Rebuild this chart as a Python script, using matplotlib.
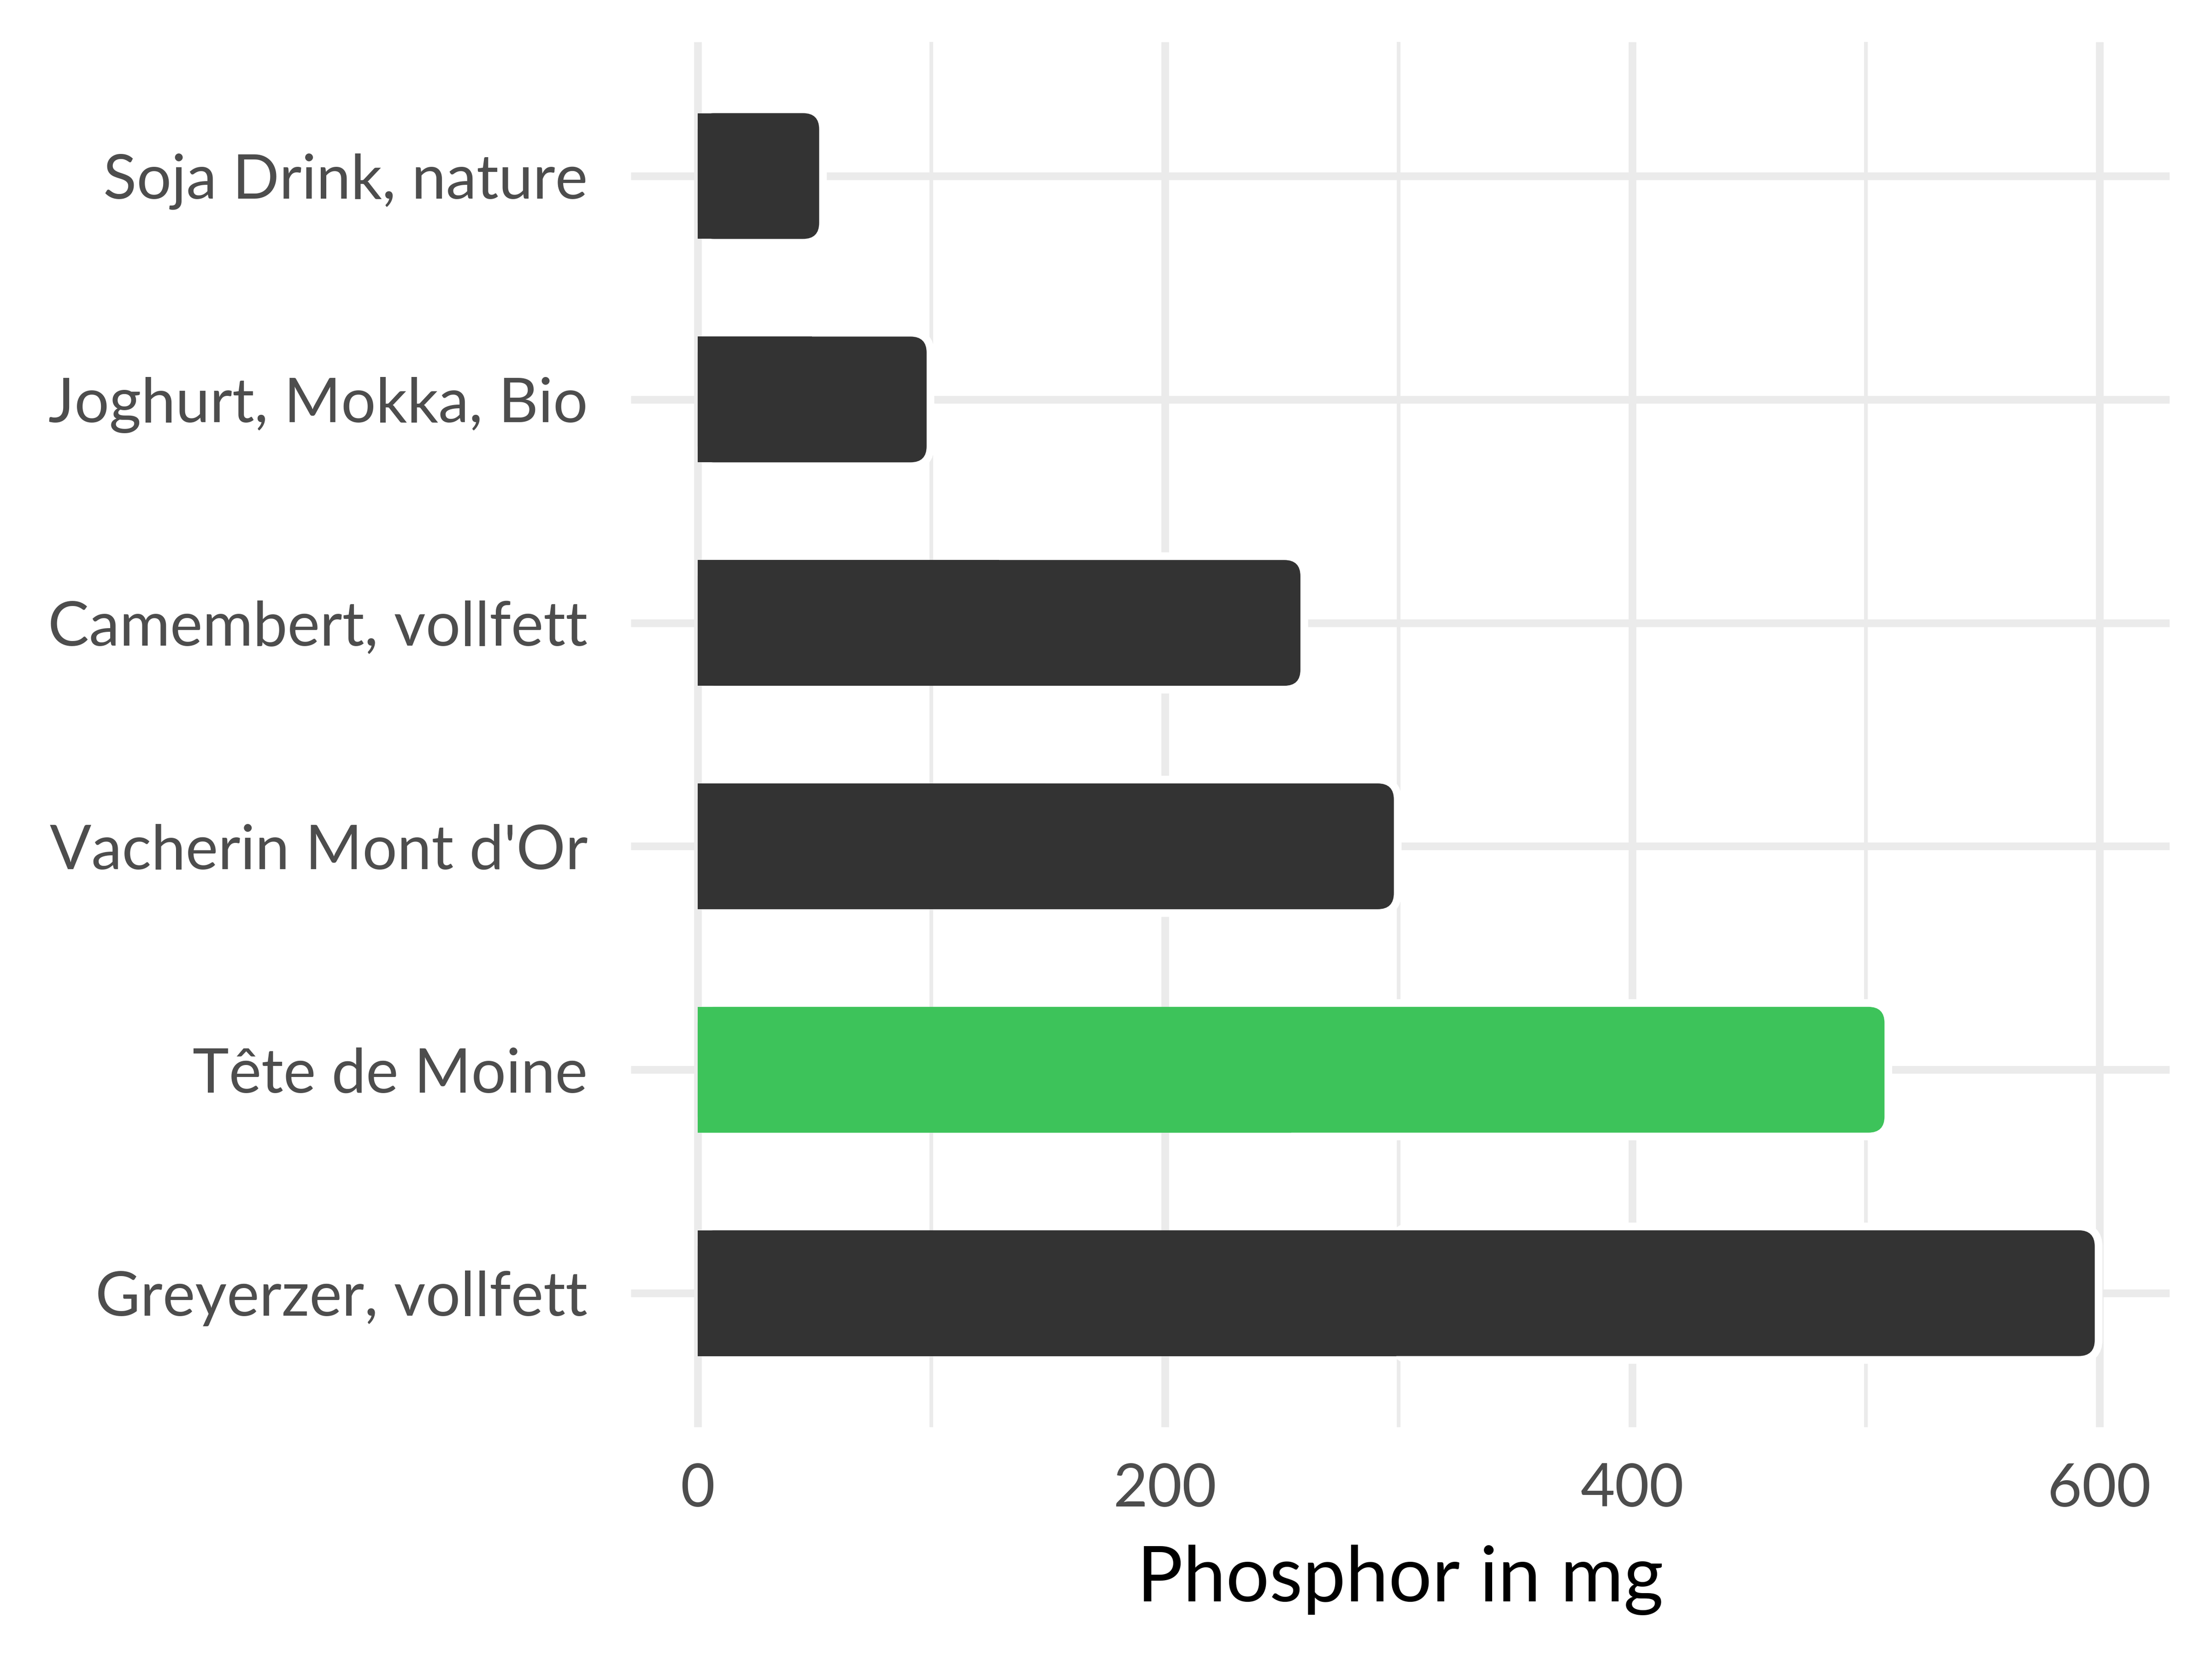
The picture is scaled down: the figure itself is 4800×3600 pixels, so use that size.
import matplotlib.pyplot as plt
from matplotlib.patches import FancyBboxPatch, Rectangle

# data, top to bottom as in the chart
foods = ["Soja Drink, nature", "Joghurt, Mokka, Bio", "Camembert, vollfett",
         "Vacherin Mont d'Or", "Tête de Moine", "Greyerzer, vollfett"]
phosphor = [52, 98, 258, 298, 508, 598]
highlight = "Tête de Moine"

dark = "#333333"
green = "#3DC35A"
grid_col = "#EBEBEB"

plt.rcParams['font.family'] = ['Lato', 'DejaVu Sans']

fig = plt.figure(figsize=(16, 12), dpi=300)
ax = fig.add_axes([0.2852, 0.1397, 0.6956, 0.8350])

xmin, xmax = -28.6, 630
n = len(foods)
ax.set_xlim(xmin, xmax)
ax.set_ylim(n - 1 + 0.6, -0.6)

# grid
ax.set_xticks([0, 200, 400, 600])
ax.set_xticks([100, 300, 500], minor=True)
ax.set_yticks(range(n))
ax.set_yticklabels(foods)
ax.grid(which='major', color=grid_col, linewidth=4.0, zorder=0,
        solid_capstyle='butt')
ax.grid(which='minor', axis='x', color=grid_col, linewidth=1.9, zorder=0,
        solid_capstyle='butt')
ax.set_axisbelow(True)

# rounded bars
px_x = (ax.get_position().width * 4800) / (xmax - xmin)
px_y = (ax.get_position().height * 3600) / (n + 0.2)
aspect = px_x / px_y
r = 35 / px_x
h = 0.563
for i, (f, v) in enumerate(zip(foods, phosphor)):
    col = green if f == highlight else dark
    y0 = i - h / 2
    # white halo around the right end
    ax.add_patch(FancyBboxPatch((v * 0.5, y0), v * 0.5, h,
                                boxstyle=f"round,pad=0,rounding_size={r}",
                                mutation_aspect=aspect, facecolor='white',
                                edgecolor='white', linewidth=8, zorder=2))
    ax.add_patch(FancyBboxPatch((0, y0), v, h,
                                boxstyle=f"round,pad=0,rounding_size={r}",
                                mutation_aspect=aspect, facecolor=col,
                                edgecolor='none', linewidth=0, zorder=3))
    ax.add_patch(Rectangle((0, y0), v * 0.5, h, facecolor=col,
                           edgecolor='none', linewidth=0, zorder=3))

for s in ax.spines.values():
    s.set_visible(False)
ax.tick_params(axis='both', which='both', length=0)
ax.tick_params(axis='y', labelsize=32, labelcolor='#4D4D4D', pad=22.5)
ax.tick_params(axis='x', labelsize=31, labelcolor='#4D4D4D', pad=18.5)
ax.set_xlabel("Phosphor in mg", fontsize=40, color='black', labelpad=14.5)

fig.savefig("out.png", dpi=300, facecolor='white')
